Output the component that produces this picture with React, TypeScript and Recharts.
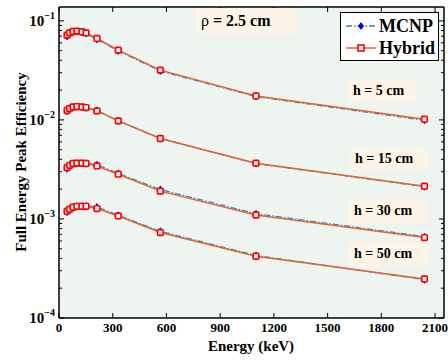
import React from 'react';
import { ComposedChart, Line, XAxis, YAxis, CartesianGrid } from 'recharts';

// energies in keV
const energies = [45, 59, 78, 100, 128, 151, 212, 331, 566, 1100, 2041];

const hyb5 = [0.0717, 0.0757, 0.0781, 0.0787, 0.0776, 0.0755, 0.0664, 0.0506, 0.0318, 0.01746, 0.01016];
const mcnp5 = [0.0695, 0.074, 0.0772, 0.0779, 0.0768, 0.0745, 0.065, 0.0497, 0.0312, 0.0172, 0.0099];
const hyb15 = [0.01245, 0.01303, 0.01352, 0.01364, 0.01352, 0.01333, 0.01233, 0.00977, 0.00649, 0.00366, 0.00214];
const mcnp15 = [0.0122, 0.0128, 0.0134, 0.0136, 0.0135, 0.0133, 0.0125, 0.0098, 0.0065, 0.00362, 0.00212];
const hyb30 = [0.0033, 0.00348, 0.00363, 0.00366, 0.00366, 0.00363, 0.00343, 0.00283, 0.00191, 0.001096, 0.000649];
const mcnp30 = [0.00322, 0.00342, 0.0036, 0.00365, 0.00366, 0.00364, 0.00352, 0.00288, 0.00198, 0.00113, 0.000663];
const hyb50 = [0.001197, 0.001253, 0.001312, 0.001342, 0.001342, 0.001342, 0.001274, 0.001072, 0.00073, 0.00042, 0.000248];
const mcnp50 = [0.00117, 0.00123, 0.0013, 0.00134, 0.00135, 0.00135, 0.00132, 0.00109, 0.00075, 0.000428, 0.000244];

const xTicks = [0, 300, 600, 900, 1200, 1500, 1800, 2100];
const decades = [1e-4, 1e-3, 1e-2, 1e-1];
const decadeExp = ['−4', '−3', '−2', '−1'];
const yTicks = decades.flatMap((d) => [1, 2, 3, 4, 5, 6, 7, 8, 9].map((k) => k * d)).filter((v) => v <= 0.138);

const heightLabels = ['h = 5 cm', 'h = 15 cm', 'h = 30 cm', 'h = 50 cm'];

const data = energies.map((e, i) => ({
  energy: e,
  hyb5: hyb5[i], mcnp5: mcnp5[i],
  hyb15: hyb15[i], mcnp15: mcnp15[i],
  hyb30: hyb30[i], mcnp30: mcnp30[i],
  hyb50: hyb50[i], mcnp50: mcnp50[i],
}));

const FONT = '"Liberation Serif", "Times New Roman", serif';
const MCNP_LINE = '#3a80c8';
const HYB_LINE = '#e4632b';

const isDecade = (v: number) => {
  const lg = Math.log10(v);
  return Math.abs(lg - Math.round(lg)) < 1e-6;
};

const LeftTick = (props: any) => {
  const { x, y, payload } = props;
  const v = payload.value;
  const major = isDecade(v);
  const idx = decades.findIndex((d) => Math.abs(d - v) / d < 1e-6);
  return (
    <g>
      <line x1={x} x2={x + (major ? 5 : 3)} y1={y} y2={y} stroke="#000" strokeWidth={1} />
      {major && (
        <text x={x - 4} y={y + 5} textAnchor="end" fontFamily={FONT} fontWeight="bold" fontSize={15} fill="#000">
          <tspan>10</tspan>
          <tspan dy={-7} fontSize={10}>{decadeExp[idx]}</tspan>
        </text>
      )}
    </g>
  );
};

const RightTick = (props: any) => {
  const { x, y, payload } = props;
  const major = isDecade(payload.value);
  return <line x1={x} x2={x - (major ? 5 : 3)} y1={y} y2={y} stroke="#000" strokeWidth={1} />;
};

const BottomTick = (props: any) => {
  const { x, y, payload } = props;
  return (
    <g>
      <line x1={x} x2={x} y1={y} y2={y - 5} stroke="#000" strokeWidth={1} />
      <text x={x} y={y + 14} textAnchor="middle" fontFamily={FONT} fontWeight="bold" fontSize={13} fill="#000">
        {payload.value}
      </text>
    </g>
  );
};

const TopTick = (props: any) => {
  const { x, y } = props;
  return <line x1={x} x2={x} y1={y} y2={y + 5} stroke="#000" strokeWidth={1} />;
};

const Diamond = (p: any) => {
  const { cx, cy } = p;
  if (cx == null || cy == null) return <g key={`d-${p.index}`} />;
  return (
    <path
      key={`d-${p.dataKey}-${p.index}`}
      d={`M${cx},${cy - 4}L${cx + 3},${cy}L${cx},${cy + 4}L${cx - 3},${cy}Z`}
      fill="#0000ff"
    />
  );
};

const Square = (p: any) => {
  const { cx, cy } = p;
  if (cx == null || cy == null) return <g key={`s-${p.index}`} />;
  return (
    <rect
      key={`s-${p.dataKey}-${p.index}`}
      x={cx - 2.8}
      y={cy - 2.8}
      width={5.6}
      height={5.6}
      rx={1}
      fill="#fff"
      stroke="#ff0000"
      strokeWidth={1.7}
    />
  );
};

const boxes = [
  { left: 348, top: 79, width: 69, height: 23 },
  { left: 350, top: 148, width: 77, height: 22 },
  { left: 349, top: 199, width: 77, height: 24 },
  { left: 349, top: 242, width: 78, height: 24 },
];

const series = ['5', '15', '30', '50'];

export default function App() {
  return (
    <div style={{ position: 'absolute', left: 0, top: 0, width: 448, height: 361, background: '#fff' }}>
      <ComposedChart width={448} height={361} data={data} margin={{ top: 0, right: 0, bottom: 0, left: 0 }}>
        <CartesianGrid fill="#eef5f0" horizontal={false} vertical={false} />
        <XAxis
          dataKey="energy"
          type="number"
          domain={[0, 2150]}
          ticks={xTicks}
          interval={0}
          height={43}
          tickSize={0}
          tickMargin={0}
          tick={<BottomTick />}
          axisLine={{ stroke: '#000', strokeWidth: 1.5 }}
          tickLine={false}
          allowDataOverflow
        />
        <XAxis
          xAxisId="top"
          orientation="top"
          dataKey="energy"
          type="number"
          domain={[0, 2150]}
          ticks={xTicks}
          interval={0}
          height={7}
          tickSize={0}
          tickMargin={0}
          tick={<TopTick />}
          axisLine={{ stroke: '#000', strokeWidth: 1.5 }}
          tickLine={false}
          allowDataOverflow
        />
        <YAxis
          type="number"
          scale="log"
          domain={[1e-4, 0.138]}
          ticks={yTicks}
          interval={0}
          width={59}
          tickSize={0}
          tickMargin={0}
          tick={<LeftTick />}
          axisLine={{ stroke: '#000', strokeWidth: 1.5 }}
          tickLine={false}
          allowDataOverflow
        />
        <YAxis
          yAxisId="right"
          orientation="right"
          type="number"
          scale="log"
          domain={[1e-4, 0.138]}
          ticks={yTicks}
          interval={0}
          width={4}
          tickSize={0}
          tickMargin={0}
          tick={<RightTick />}
          axisLine={{ stroke: '#000', strokeWidth: 1.5 }}
          tickLine={false}
          allowDataOverflow
        />
        {series.map((s) => (
          <Line
            key={`m${s}`}
            dataKey={`mcnp${s}`}
            type="linear"
            stroke={MCNP_LINE}
            strokeWidth={1.3}
            strokeDasharray="6 2 1.5 2"
            dot={<Diamond />}
            activeDot={false}
            isAnimationActive={false}
          />
        ))}
        {series.map((s) => (
          <Line
            key={`h${s}`}
            dataKey={`hyb${s}`}
            type="linear"
            stroke={HYB_LINE}
            strokeWidth={1.5}
            dot={<Square />}
            activeDot={false}
            isAnimationActive={false}
          />
        ))}
        <text x={251} y={351} textAnchor="middle" fontFamily={FONT} fontWeight="bold" fontSize={15} fill="#000">
          Energy (keV)
        </text>
        <text
          x={26}
          y={162}
          transform="rotate(-90 26 162)"
          textAnchor="middle"
          fontFamily={FONT}
          fontWeight="bold"
          fontSize={15}
          fill="#000"
        >
          Full Energy Peak Efficiency
        </text>
      </ComposedChart>

      {/* annotation boxes */}
      <div
        style={{
          position: 'absolute', left: 195, top: 8, width: 102, height: 26, background: '#fdf4e8',
          fontFamily: FONT, fontSize: 16, lineHeight: '26px', paddingLeft: 6, boxSizing: 'border-box', color: '#000',
        }}
      >
        ρ <b>= 2.5 cm</b>
      </div>
      {boxes.map((b, i) => (
        <div
          key={i}
          style={{
            position: 'absolute', left: b.left, top: b.top, width: b.width, height: b.height, background: '#fdf4e8',
            fontFamily: FONT, fontWeight: 'bold', fontSize: 14, lineHeight: `${b.height}px`, paddingLeft: 5,
            boxSizing: 'border-box', color: '#000', whiteSpace: 'nowrap',
          }}
        >
          {heightLabels[i]}
        </div>
      ))}

      {/* legend */}
      <div
        style={{
          position: 'absolute', left: 340, top: 12, width: 99, height: 49, background: '#fff',
          border: '1.5px solid #000', boxSizing: 'border-box',
        }}
      >
        <svg width={96} height={46} style={{ position: 'absolute', left: 0, top: 0 }}>
          <line x1={5} x2={35} y1={13} y2={13} stroke={MCNP_LINE} strokeWidth={1.3} strokeDasharray="6 2 1.5 2" />
          <path d="M20,9L23,13L20,17L17,13Z" fill="#0000ff" />
          <text x={38} y={19} fontFamily={FONT} fontWeight="bold" fontSize={18} fill="#000">MCNP</text>
          <line x1={5} x2={35} y1={35} y2={35} stroke={HYB_LINE} strokeWidth={1.5} />
          <rect x={17} y={32} width={6} height={6} fill="#fff" stroke="#ff0000" strokeWidth={1.6} />
          <text x={38} y={41} fontFamily={FONT} fontWeight="bold" fontSize={18} fill="#000">Hybrid</text>
        </svg>
      </div>
    </div>
  );
}
